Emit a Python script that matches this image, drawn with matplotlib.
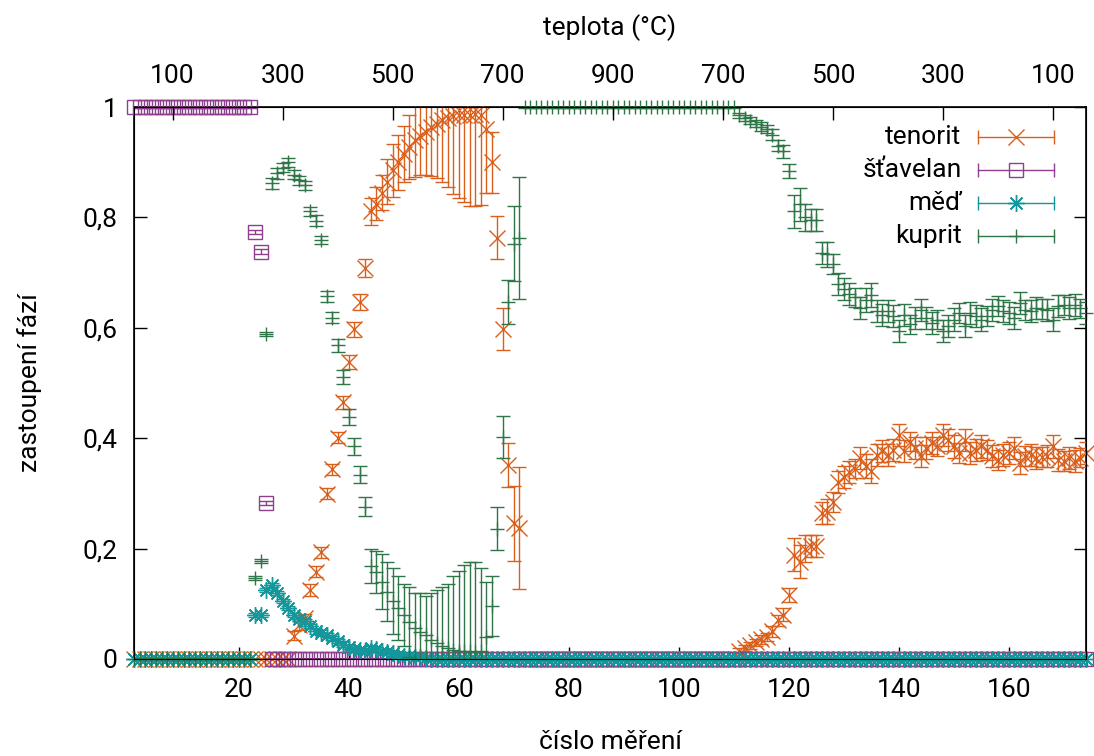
import numpy as np
import matplotlib
matplotlib.use("Agg")
import matplotlib.pyplot as plt
from matplotlib.lines import Line2D

plt.rcParams["font.family"] = ["Roboto", "DejaVu Sans"]

# measurement number (x axis)
measurement = np.arange(1, 175)

# phase fractions and their uncertainties
tenorit = ([0.0] * 29 + [
    0.042, 0.061, 0.074, 0.125, 0.158, 0.193, 0.299, 0.344, 0.401, 0.465,
    0.538, 0.597, 0.647, 0.708, 0.811, 0.825, 0.845, 0.865, 0.885, 0.900,
    0.915, 0.928, 0.940, 0.948, 0.955, 0.963, 0.970, 0.976, 0.980, 0.983,
    0.985, 0.985, 0.986, 0.987, 0.986, 0.960, 0.900, 0.763, 0.597, 0.352,
    0.246, 0.237] + [0.0] * 39 + [
    0.015, 0.020, 0.025, 0.030, 0.036, 0.040, 0.050, 0.070, 0.080, 0.116,
    0.189, 0.176, 0.200, 0.205, 0.205, 0.264, 0.267, 0.285, 0.321, 0.330,
    0.338, 0.345, 0.364, 0.350, 0.340, 0.370, 0.376, 0.370, 0.379, 0.406,
    0.376, 0.394, 0.382, 0.367, 0.382, 0.391, 0.385, 0.406, 0.397, 0.385,
    0.373, 0.397, 0.373, 0.379, 0.385, 0.379, 0.367, 0.361, 0.370, 0.373,
    0.382, 0.355, 0.367, 0.370, 0.364, 0.366, 0.367, 0.385, 0.361, 0.358,
    0.364, 0.358, 0.365, 0.373])
tenorit_err = ([0.0] * 29 + [
    0.008, 0.008, 0.008, 0.010, 0.010, 0.010, 0.010, 0.010, 0.010, 0.012,
    0.013, 0.014, 0.015, 0.016, 0.025, 0.030, 0.032, 0.040, 0.048, 0.050,
    0.050, 0.058, 0.066, 0.072, 0.078, 0.088, 0.098, 0.112, 0.125, 0.140,
    0.150, 0.158, 0.165, 0.166, 0.163, 0.115, 0.055, 0.039, 0.038, 0.040,
    0.068, 0.110] + [0.0] * 39 + [
    0.005, 0.006, 0.006, 0.007, 0.008, 0.008, 0.010, 0.010, 0.012, 0.012,
    0.030, 0.030, 0.025, 0.020, 0.020, 0.020, 0.022, 0.018, 0.020, 0.020,
    0.020, 0.018, 0.020, 0.022, 0.022, 0.020, 0.020, 0.020, 0.020, 0.020,
    0.020, 0.018, 0.020, 0.020, 0.020, 0.020, 0.018, 0.020, 0.020, 0.020,
    0.018, 0.020, 0.020, 0.020, 0.020, 0.018, 0.020, 0.018, 0.020, 0.020,
    0.020, 0.020, 0.018, 0.020, 0.020, 0.018, 0.020, 0.020, 0.020, 0.018,
    0.020, 0.020, 0.018, 0.020])

stavelan = [1.0] * 22 + [0.774, 0.738, 0.283] + [0.0] * 149
stavelan_err = [0.002] * 22 + [0.004, 0.004, 0.004] + [0.0] * 149

med = ([0.0] * 22 + [
    0.080, 0.080, 0.125, 0.134, 0.120, 0.105, 0.092, 0.080, 0.072, 0.068,
    0.060, 0.050, 0.048, 0.044, 0.038, 0.033, 0.026, 0.022, 0.018, 0.016,
    0.015, 0.020, 0.018, 0.015, 0.013, 0.010, 0.008, 0.006, 0.005, 0.004,
    0.003, 0.002] + [0.0] * 120)
med_err = [0.0] * 22 + [0.004] * 32 + [0.0] * 120

kuprit = ([0.0] * 22 + [
    0.147, 0.178, 0.589, 0.862, 0.880, 0.890, 0.900, 0.877, 0.867, 0.858,
    0.811, 0.794, 0.759, 0.657, 0.618, 0.568, 0.511, 0.438, 0.385, 0.334,
    0.276, 0.169, 0.157, 0.140, 0.122, 0.105, 0.092, 0.079, 0.067, 0.056,
    0.049, 0.043, 0.035, 0.029, 0.023, 0.020, 0.017, 0.015, 0.015, 0.014,
    0.013, 0.014, 0.040, 0.096, 0.236, 0.402, 0.646, 0.752, 0.763]
    + [1.0] * 39 + [
    0.985, 0.980, 0.975, 0.970, 0.964, 0.960, 0.950, 0.930, 0.920, 0.884,
    0.811, 0.824, 0.800, 0.795, 0.795, 0.736, 0.733, 0.715, 0.679, 0.670,
    0.662, 0.655, 0.636, 0.650, 0.660, 0.630, 0.624, 0.630, 0.621, 0.594,
    0.624, 0.606, 0.618, 0.633, 0.618, 0.609, 0.615, 0.594, 0.603, 0.615,
    0.627, 0.603, 0.627, 0.621, 0.615, 0.621, 0.633, 0.639, 0.630, 0.627,
    0.618, 0.645, 0.633, 0.630, 0.636, 0.634, 0.633, 0.615, 0.639, 0.642,
    0.636, 0.642, 0.635, 0.627])
kuprit_err = ([0.0] * 22 + [
    0.004, 0.004, 0.003, 0.010, 0.010, 0.008, 0.008, 0.008, 0.008, 0.008,
    0.008, 0.010, 0.008, 0.010, 0.010, 0.012, 0.013, 0.014, 0.015, 0.016,
    0.017, 0.031, 0.038, 0.050, 0.053, 0.060, 0.058, 0.056, 0.063, 0.064,
    0.071, 0.072, 0.085, 0.096, 0.107, 0.115, 0.133, 0.145, 0.155, 0.161,
    0.162, 0.151, 0.100, 0.055, 0.039, 0.038, 0.040, 0.068, 0.110]
    + [0.002] * 39 + tenorit_err[110:])

# top axis: furnace temperature at selected measurements
temp_positions = [8, 28, 48, 68, 88, 108, 128, 148, 168]
temp_labels = ["100", "300", "500", "700", "900", "700", "500", "300", "100"]

x_ticks = [20, 40, 60, 80, 100, 120, 140, 160]
y_ticks = [0, 0.2, 0.4, 0.6, 0.8, 1]
y_ticklabels = ["0", "0,2", "0,4", "0,6", "0,8", "1"]

# name, values, errors, colour, marker, marker size
series = [
    ("tenorit", tenorit, tenorit_err, "#d95f1c", "x", 11),
    ("šťavelan", stavelan, stavelan_err, "#8e3f8e", "s", 10),
    ("měď", med, med_err, "#13979a", (8, 2, 0), 12),
    ("kuprit", kuprit, kuprit_err, "#2e7547", "+", 10),
]

FS = 19

W, H = 1094, 756
fig = plt.figure(figsize=(W / 100, H / 100), dpi=100)
L, R, T, B = 134, 1086, 107, 659
ax = fig.add_axes([L / W, 1 - B / H, (R - L) / W, (B - T) / H])

for i, (name, vals, errs, col, mk, ms) in enumerate(series):
    ax.errorbar(measurement, vals, yerr=errs, fmt="none", ecolor=col,
                elinewidth=1.0, capsize=5, capthick=1.0, zorder=3 + i)
    ax.plot(measurement, vals, ls="none", marker=mk, ms=ms, mew=1.0,
            mec=col, mfc="none", color=col, clip_on=False, zorder=3 + i)

ax.set_xlim(1, 174)
ax.set_ylim(0, 1)
ax.set_xticks(x_ticks)
ax.set_yticks(y_ticks)
ax.set_yticklabels(y_ticklabels)
ax.tick_params(axis="both", direction="in", length=9, width=1.0,
               labelsize=FS, right=True, top=False)
ax.tick_params(axis="x", pad=14)
ax.tick_params(axis="y", pad=12)
for sp in ax.spines.values():
    sp.set_linewidth(1.2)

top = ax.twiny()
top.set_xlim(ax.get_xlim())
top.set_xticks(temp_positions)
top.set_xticklabels(temp_labels)
top.tick_params(axis="x", direction="in", length=9, width=1.0,
                labelsize=FS, pad=14)

# key: label right-aligned, sample line with error-bar ends and a marker
row_y = [0.9462, 0.8859, 0.8266, 0.7668]
for (name, vals, errs, col, mk, ms), yy in zip(series, row_y):
    ax.text(0.8694, yy, name, transform=ax.transAxes, ha="right",
            va="center", fontsize=FS, zorder=10)
    ax.add_line(Line2D([0.8863, 0.9664], [yy, yy], transform=ax.transAxes,
                       color=col, lw=1.0, zorder=10))
    ax.add_line(Line2D([0.8863, 0.9664], [yy, yy], transform=ax.transAxes,
                       ls="none", marker="|", ms=10, mew=1.0, color=col,
                       zorder=10))
    ax.add_line(Line2D([0.9265], [yy], transform=ax.transAxes, ls="none",
                       marker=mk, ms=ms, mew=1.0, mec=col, mfc="none",
                       zorder=10))

fig.text(610 / W, 1 - 28 / H, "teplota (°C)", ha="center", va="center",
         fontsize=FS)
fig.text(610 / W, 1 - 742 / H, "číslo měření", ha="center", va="center",
         fontsize=FS)
fig.text(30 / W, 1 - 383 / H, "zastoupení fází", ha="center", va="center",
         rotation=90, fontsize=FS)

fig.savefig("out.png", dpi=100)
